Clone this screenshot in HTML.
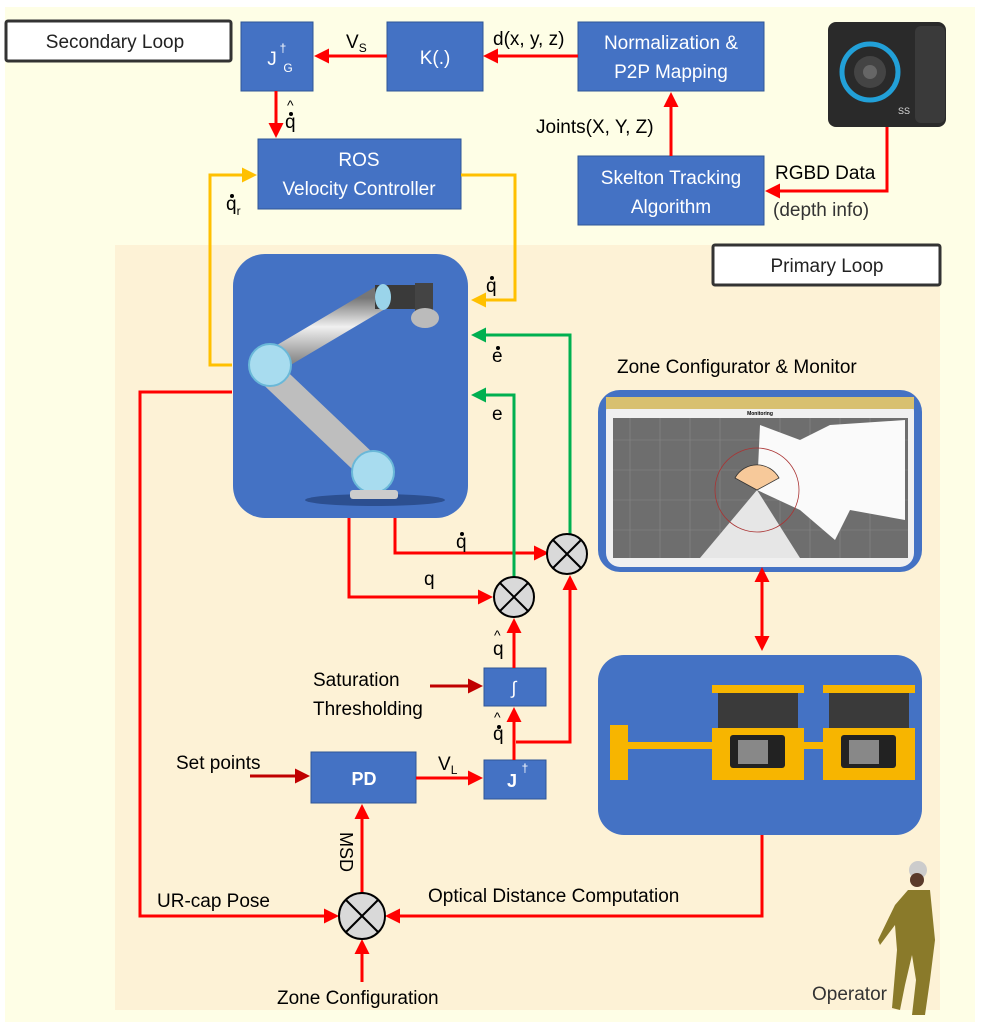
<!DOCTYPE html>
<html><head><meta charset="utf-8"><style>
html,body{margin:0;padding:0;background:#fff;}
svg{display:block;}
text{font-family:"Liberation Sans",sans-serif;}
</style></head><body>
<svg width="983" height="1034" viewBox="0 0 983 1034" xmlns="http://www.w3.org/2000/svg">
<defs>
<marker id="ar" markerWidth="5" markerHeight="5" refX="4" refY="2.5" orient="auto" markerUnits="strokeWidth"><path d="M0,0 L5,2.5 L0,5 z" fill="#ff0000"/></marker>
<marker id="ad" markerWidth="5" markerHeight="5" refX="4" refY="2.5" orient="auto" markerUnits="strokeWidth"><path d="M0,0 L5,2.5 L0,5 z" fill="#c00000"/></marker>
<marker id="ay" markerWidth="5" markerHeight="5" refX="4" refY="2.5" orient="auto" markerUnits="strokeWidth"><path d="M0,0 L5,2.5 L0,5 z" fill="#ffc000"/></marker>
<marker id="ag" markerWidth="5" markerHeight="5" refX="4" refY="2.5" orient="auto" markerUnits="strokeWidth"><path d="M0,0 L5,2.5 L0,5 z" fill="#00b050"/></marker>
<marker id="as" markerWidth="5" markerHeight="5" refX="1" refY="2.5" orient="auto-start-reverse" markerUnits="strokeWidth"><path d="M0,0 L5,2.5 L0,5 z" fill="#ff0000"/></marker>
<linearGradient id="metal" x1="0" y1="0" x2="0" y2="1"><stop offset="0" stop-color="#777"/><stop offset="0.45" stop-color="#f0f0f0"/><stop offset="1" stop-color="#888"/></linearGradient>
</defs>
<rect x="5" y="7" width="970" height="1015" fill="#fefee6"/>
<rect x="115" y="245" width="825" height="765" fill="#fdf2d6"/>

<rect x="6" y="21" width="225" height="40" fill="#fff" stroke="#333" stroke-width="3" rx="2"/>
<text x="115" y="48" font-size="19" text-anchor="middle" fill="#222">Secondary Loop</text>
<rect x="713" y="245" width="227" height="40" fill="#fff" stroke="#333" stroke-width="3" rx="2"/>
<text x="827" y="272" font-size="19" text-anchor="middle" fill="#222">Primary Loop</text>

<g fill="#4472c4" stroke="#2f5597" stroke-width="1">
<rect x="241" y="22" width="72" height="69"/>
<rect x="387" y="22" width="96" height="69"/>
<rect x="578" y="22" width="186" height="69"/>
<rect x="258" y="139" width="203" height="70"/>
<rect x="578" y="156" width="186" height="69"/>
<rect x="484" y="668" width="62" height="38"/>
<rect x="484" y="760" width="62" height="39"/>
<rect x="311" y="752" width="105" height="51"/>
</g>
<g fill="#fff" font-size="19" text-anchor="middle">
<text x="272" y="65">J</text><text x="283" y="52" font-size="12">†</text><text x="288" y="72" font-size="12">G</text>
<text x="435" y="64">K(.)</text>
<text x="671" y="49">Normalization &amp;</text>
<text x="671" y="78">P2P Mapping</text>
<text x="359" y="166">ROS</text>
<text x="359" y="195">Velocity Controller</text>
<text x="671" y="184">Skelton Tracking</text>
<text x="671" y="213">Algorithm</text>
<text x="514" y="694" font-size="18">∫</text>
<text x="512" y="787" font-weight="bold" font-size="18">J</text><text x="525" y="772" font-size="12">†</text>
<text x="364" y="785" font-weight="bold" font-size="18">PD</text>
</g>

<rect x="828" y="22" width="118" height="105" rx="8" fill="#2a2a2a"/>
<rect x="915" y="26" width="30" height="97" rx="6" fill="#3a3a3a"/>
<circle cx="870" cy="72" r="28" fill="none" stroke="#22a0d8" stroke-width="5"/>
<circle cx="870" cy="72" r="16" fill="#444"/>
<circle cx="870" cy="72" r="7" fill="#666"/>
<text x="898" y="114" font-size="9" fill="#ddd">SS</text>

<rect x="233" y="254" width="235" height="264" rx="32" fill="#4472c4"/>
<ellipse cx="375" cy="500" rx="70" ry="6" fill="#2c4f90"/>
<line x1="272" y1="362" x2="380" y2="298" stroke="url(#metal)" stroke-width="24" stroke-linecap="round"/>
<line x1="272" y1="375" x2="372" y2="470" stroke="#cfcfcf" stroke-width="26"/>
<line x1="272" y1="375" x2="372" y2="470" stroke="#999" stroke-width="26" stroke-opacity="0.3"/>
<rect x="375" y="285" width="45" height="24" fill="#3a3a3a"/>
<rect x="415" y="283" width="18" height="32" fill="#444"/>
<ellipse cx="383" cy="297" rx="8" ry="13" fill="#9ad4ea"/>
<ellipse cx="425" cy="318" rx="14" ry="10" fill="#bbb"/>
<circle cx="270" cy="365" r="21" fill="#a8dcef" stroke="#6ab8d8" stroke-width="2"/>
<circle cx="373" cy="472" r="21" fill="#a8dcef" stroke="#6ab8d8" stroke-width="2"/>
<rect x="350" y="490" width="48" height="9" rx="3" fill="#ccc"/>

<rect x="598" y="390" width="324" height="182" rx="22" fill="#4472c4"/>
<rect x="606" y="397" width="308" height="170" rx="14" fill="#f0f0f0"/>
<rect x="606" y="397" width="308" height="12" fill="#d8c070"/>
<rect x="613" y="418" width="295" height="140" fill="#6e6e6e"/>
<g stroke="#888" stroke-width="0.6">
<line x1="630" y1="418" x2="630" y2="558"/><line x1="660" y1="418" x2="660" y2="558"/><line x1="690" y1="418" x2="690" y2="558"/><line x1="720" y1="418" x2="720" y2="558"/><line x1="780" y1="418" x2="780" y2="558"/><line x1="810" y1="418" x2="810" y2="558"/><line x1="840" y1="418" x2="840" y2="558"/><line x1="870" y1="418" x2="870" y2="558"/>
<line x1="613" y1="440" x2="908" y2="440"/><line x1="613" y1="470" x2="908" y2="470"/><line x1="613" y1="500" x2="908" y2="500"/><line x1="613" y1="530" x2="908" y2="530"/>
</g>
<polygon points="757,490 700,558 800,558" fill="#e6e6e6"/>
<polygon points="757,490 760,425 800,440 830,425 905,420 905,520 850,510 835,540 800,510" fill="#fafafa"/>
<circle cx="757" cy="490" r="42" fill="none" stroke="#a33" stroke-width="0.8"/>
<path d="M735,478 A25,25 0 0 1 779,478 L757,490 z" fill="#f7c99a" stroke="#333" stroke-width="0.8"/>
<text x="760" y="415" font-size="5" text-anchor="middle" font-weight="bold">Monitoring</text>

<rect x="598" y="655" width="324" height="180" rx="26" fill="#4472c4"/>
<rect x="612" y="742" width="298" height="7" fill="#f7b500"/>
<rect x="610" y="725" width="18" height="55" fill="#f7b500"/>
<rect x="712" y="685" width="92" height="8" fill="#f7b500"/>
<rect x="718" y="693" width="80" height="35" fill="#3a3a3a"/>
<rect x="712" y="728" width="92" height="52" fill="#f7b500"/>
<rect x="730" y="735" width="55" height="33" rx="3" fill="#222"/><rect x="738" y="740" width="30" height="24" fill="#888"/>
<rect x="823" y="685" width="92" height="8" fill="#f7b500"/>
<rect x="829" y="693" width="80" height="35" fill="#3a3a3a"/>
<rect x="823" y="728" width="92" height="52" fill="#f7b500"/>
<rect x="841" y="735" width="55" height="33" rx="3" fill="#222"/><rect x="849" y="740" width="30" height="24" fill="#888"/>

<circle cx="918" cy="870" r="9" fill="#ccc"/>
<circle cx="917" cy="880" r="7" fill="#5a3a2a"/>
<path d="M908,890 L930,890 L935,940 L930,980 L925,1015 L912,1015 L916,980 L912,955 L905,985 L900,1010 L892,1008 L897,950 L895,925 L880,945 L878,940 L895,905 Z" fill="#8a7a2a"/>

<g stroke="#ff0000" stroke-width="3" fill="none">
<line x1="578" y1="56" x2="486" y2="56" marker-end="url(#ar)"/>
<line x1="387" y1="56" x2="317" y2="56" marker-end="url(#ar)"/>
<line x1="276" y1="91" x2="276" y2="135" marker-end="url(#ar)"/>
<line x1="671" y1="156" x2="671" y2="95" marker-end="url(#ar)"/>
<polyline points="887,127 887,191 768,191" marker-end="url(#ar)"/>
<polyline points="395,518 395,553 546,553" marker-end="url(#ar)"/>
<polyline points="349,518 349,597 490,597" marker-end="url(#ar)"/>
<line x1="514" y1="668" x2="514" y2="621" marker-end="url(#ar)"/>
<line x1="514" y1="760" x2="514" y2="710" marker-end="url(#ar)"/>
<polyline points="516,742 570,742 570,578" marker-end="url(#ar)"/>
<line x1="416" y1="778" x2="480" y2="778" marker-end="url(#ar)"/>
<line x1="362" y1="894" x2="362" y2="807" marker-end="url(#ar)"/>
<polyline points="232,392 140,392 140,916 336,916" marker-end="url(#ar)"/>
<polyline points="762,835 762,916 388,916" marker-end="url(#ar)"/>
<line x1="362" y1="982" x2="362" y2="942" marker-end="url(#ar)"/>
<line x1="762" y1="579" x2="762" y2="648" marker-start="url(#as)" marker-end="url(#ar)"/>
</g>
<g stroke="#c00000" stroke-width="3" fill="none">
<line x1="430" y1="686" x2="480" y2="686" marker-end="url(#ad)"/>
<line x1="250" y1="776" x2="307" y2="776" marker-end="url(#ad)"/>
</g>
<g stroke="#ffc000" stroke-width="3" fill="none">
<polyline points="461,175 515,175 515,300 474,300" marker-end="url(#ay)"/>
<polyline points="232,365 210,365 210,175 254,175" marker-end="url(#ay)"/>
</g>
<g stroke="#00b050" stroke-width="3" fill="none">
<polyline points="570,534 570,335 474,335" marker-end="url(#ag)"/>
<polyline points="514,577 514,395 474,395" marker-end="url(#ag)"/>
</g>

<g fill="#d9d9d9" stroke="#000" stroke-width="2">
<circle cx="567" cy="554" r="20"/>
<circle cx="514" cy="597" r="20"/>
<circle cx="362" cy="916" r="23"/>
</g>
<g stroke="#000" stroke-width="2">
<line x1="553" y1="540" x2="581" y2="568"/><line x1="581" y1="540" x2="553" y2="568"/>
<line x1="500" y1="583" x2="528" y2="611"/><line x1="528" y1="583" x2="500" y2="611"/>
<line x1="346" y1="900" x2="378" y2="932"/><line x1="378" y1="900" x2="346" y2="932"/>
</g>

<g fill="#000" font-size="19">
<text x="346" y="48">V<tspan font-size="12" dy="4">S</tspan></text>
<text x="493" y="45">d(x, y, z)</text>
<text x="285" y="128">q</text><text x="287" y="110" font-size="14">^</text><circle cx="291" cy="114" r="2"/>
<text x="536" y="133">Joints(X, Y, Z)</text>
<text x="775" y="179">RGBD Data</text>
<text x="773" y="216" fill="#333">(depth info)</text>
<text x="226" y="210">q<tspan font-size="12" dy="5">r</tspan></text><circle cx="232" cy="196" r="2"/>
<text x="486" y="292">q</text><circle cx="492" cy="278" r="2"/>
<text x="492" y="362">e</text><circle cx="498" cy="348" r="2"/>
<text x="492" y="420">e</text>
<text x="456" y="548">q</text><circle cx="462" cy="534" r="2"/>
<text x="424" y="585">q</text>
<text x="493" y="655">q</text><text x="494" y="640" font-size="14">^</text>
<text x="493" y="740">q</text><text x="494" y="722" font-size="14">^</text><circle cx="499" cy="727" r="2"/>
<text x="313" y="686">Saturation</text>
<text x="313" y="715">Thresholding</text>
<text x="176" y="769">Set points</text>
<text x="438" y="770">V<tspan font-size="12" dy="4">L</tspan></text>
<text x="617" y="373">Zone Configurator &amp; Monitor</text>
<text x="157" y="907">UR-cap Pose</text>
<text x="428" y="902">Optical Distance Computation</text>
<text x="277" y="1004">Zone Configuration</text>
<text x="812" y="1000" fill="#333">Operator</text>
<text transform="translate(340,832) rotate(90)" font-size="18">MSD</text>
</g>
</svg>
</body></html>
